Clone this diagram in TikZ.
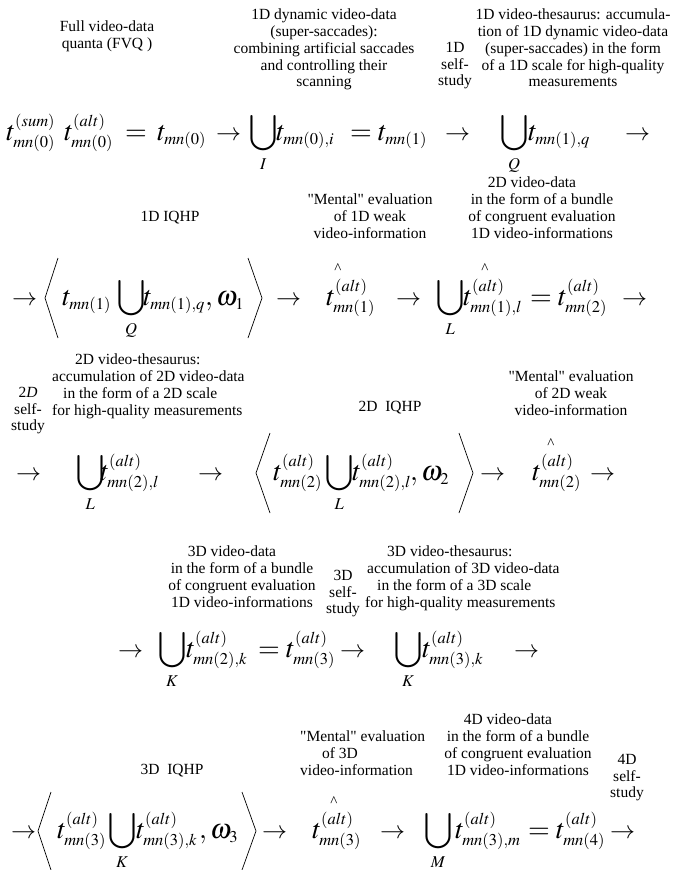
\documentclass[tikz,border=0pt]{standalone}
\usepackage{amsmath}
\usepackage{mathptmx}
\usepackage[no-math]{fontspec}
\setmainfont{Liberation Serif}
\newfontfamily\plainserif{Liberation Serif}
\DeclareMathSizes{28}{28}{16.5}{12}
\tikzset{
 capt/.style={font=\plainserif\fontsize{15.5}{16.7}\selectfont, align=center, inner sep=0pt, anchor=north},
 captl/.style={capt, align=left, anchor=north west},
 mth/.style={font=\fontsize{28}{32}\selectfont, inner sep=0pt, anchor=base west},
 arr/.style={font=\fontsize{25}{30}\selectfont, inner sep=0pt, anchor=base west},
 hatmark/.style={font=\plainserif\fontsize{15}{15}\selectfont, inner sep=0pt},
 ang/.style={line width=0.7pt}
}
\begin{document}
\begin{tikzpicture}[x=1pt,y=-1pt]
\useasboundingbox (0,0) rectangle (673,870);
% ---------- row 1 captions
\node[capt] (c1) at (107,21) {Full video-data\\quanta (FVQ )};
\node[capt] (c2) at (324,9) {1D dynamic video-data\\(super-saccades):\\combining artificial saccades\\and controlling their\\scanning};
\node[capt] (c3) at (455,42) {1D\\self-\\study};
\node[capt] (c4) at (573,9) {1D video-thesaurus: accumula-\\tion of 1D dynamic video-data\\(super-saccades) in the form\\of a 1D scale for high-quality\\measurements};
% ---------- row 1 formula
\node[mth] (r1a) at (6,140) {$t^{(sum)}_{mn(0)}$};
\node[mth] (r1b) at (64,140) {$t^{(alt)}_{mn(0)}$};
\node[mth] (r1c) at (125,140) {$=$};
\node[mth] (r1d) at (157,140) {$t_{mn(0)}$};
\node[arr] (r1e) at (216,140) {$\rightarrow$};
\node[mth] (r1f) at (249,140) {$\displaystyle\bigcup_I$};
\node[mth] (r1g) at (276,140) {$t_{mn(0),i}$};
\node[mth] (r1h) at (350,140) {$=t_{mn(1)}$};
\node[arr] (r1i) at (445,140) {$\rightarrow$};
\node[mth] (r1j) at (500,140) {$\displaystyle\bigcup_Q$};
\node[mth] (r1k) at (528,140) {$t_{mn(1),q}$};
\node[arr] (r1l) at (625,140) {$\rightarrow$};
% ---------- row 2 captions
\node[capt] (c5) at (170,211) {1D IQHP};
\node[capt] (c6) at (370,194) {"Mental" evaluation\\of 1D weak\\video-information};
\node[capt] (c7) at (542,177) {2D video-data\hspace*{20pt}\\in the form of a bundle\\of congruent evaluation\\1D video-informations};
% ---------- row 2 formula
\node[arr] (r2a) at (12,305) {$\rightarrow$};
\draw[ang] (58,258) -- (45,298) -- (58,338);
\node[mth] (r2b) at (62,305) {$t_{mn(1)}$};
\node[mth] (r2c) at (117,305) {$\displaystyle\bigcup_Q$};
\node[mth] (r2d) at (143,305) {$t_{mn(1),q}$};
\node[mth] (r2e) at (205,305) {${,}\,\omega_1$};
\draw[ang] (248,258) -- (262,298) -- (248,338);
\node[arr] (r2f) at (276,305) {$\rightarrow$};
\node[mth] (r2g) at (326,305) {$t^{(alt)}_{mn(1)}$};
\node[hatmark] (h1) at (338,269) {\textasciicircum};
\node[arr] (r2h) at (396,305) {$\rightarrow$};
\node[mth] (r2i) at (436,305) {$\displaystyle\bigcup_L$};
\node[mth] (r2j) at (463,305) {$t^{(alt)}_{mn(1),l}$};
\node[hatmark] (h2) at (485,269) {\textasciicircum};
\node[mth] (r2k) at (530,305) {$=t^{(alt)}_{mn(2)}$};
\node[arr] (r2l) at (622,305) {$\rightarrow$};
% ---------- row 3 captions
\node[capt] (c8) at (28,387) {2\textit{D}\\self-\\study};
\node[captl] (c9) at (52,354) {\hspace*{23pt}2D video-thesaurus:\\accumulation of 2D video-data\\\hspace*{11pt}in the form of a 2D scale\\for high-quality measurements};
\node[capt] (c10) at (390,401) {2D\ \ IQHP};
\node[capt] (c11) at (571,371) {"Mental" evaluation\\of 2D weak\\video-information};
% ---------- row 3 formula
\node[arr] (r3a) at (16,480) {$\rightarrow$};
\node[mth] (r3b) at (76,480) {$\displaystyle\bigcup_L$};
\node[mth] (r3c) at (100,480) {$t^{(alt)}_{mn(2),l}$};
\node[arr] (r3d) at (198,480) {$\rightarrow$};
\draw[ang] (270,433) -- (256,473) -- (270,513);
\node[mth] (r3e) at (273,480) {$t^{(alt)}_{mn(2)}$};
\node[mth] (r3f) at (325,480) {$\displaystyle\bigcup_L$};
\node[mth] (r3g) at (352,480) {$t^{(alt)}_{mn(2),l}$};
\node[mth] (r3h) at (410,480) {${,}\,\omega_2$};
\draw[ang] (459,433) -- (473,473) -- (459,513);
\node[arr] (r3i) at (480,480) {$\rightarrow$};
\node[mth] (r3j) at (532,480) {$t^{(alt)}_{mn(2)}$};
\node[hatmark] (h3) at (551,444) {\textasciicircum};
\node[arr] (r3k) at (590,480) {$\rightarrow$};
% ---------- row 4 captions
\node[capt] (c12) at (242,546) {3D video-data\hspace*{20pt}\\in the form of a bundle\\of congruent evaluation\\1D video-informations};
\node[capt] (c13) at (343,570) {3D\\self-\\study};
\node[captl] (c14) at (365,546) {\hspace*{22pt}3D video-thesaurus:\\\hspace*{2pt}accumulation of 3D video-data\\\hspace*{12pt}in the form of a 3D scale\\for high-quality measurements};
% ---------- row 4 formula
\node[arr] (r4a) at (118,657) {$\rightarrow$};
\node[mth] (r4b) at (158,657) {$\displaystyle\bigcup_K$};
\node[mth] (r4c) at (186,657) {$t^{(alt)}_{mn(2),k}$};
\node[mth] (r4d) at (258,657) {$=t^{(alt)}_{mn(3)}$};
\node[arr] (r4e) at (340,657) {$\rightarrow$};
\node[mth] (r4f) at (394,657) {$\displaystyle\bigcup_K$};
\node[mth] (r4g) at (422,657) {$t^{(alt)}_{mn(3),k}$};
\node[arr] (r4h) at (514,657) {$\rightarrow$};
% ---------- row 5 captions
\node[capt] (c15) at (172,764) {3D\ \ IQHP};
\node[captl] (c16) at (300,731) {"Mental" evaluation\\\hspace*{22pt}of 3D\\video-information};
\node[capt] (c17) at (518,714) {4D video-data\hspace*{20pt}\\in the form of a bundle\\of congruent evaluation\\1D video-informations};
\node[capt] (c18) at (627,754) {4D\\self-\\study};
% ---------- row 5 formula
\node[arr] (r5a) at (11,838) {$\rightarrow$};
\draw[ang] (51,792) -- (38,831) -- (51,870);
\node[mth] (r5b) at (57,838) {$t^{(alt)}_{mn(3)}$};
\node[mth] (r5c) at (108,838) {$\displaystyle\bigcup_K$};
\node[mth] (r5d) at (136,838) {$t^{(alt)}_{mn(3),k}$};
\node[mth] (r5e) at (199,838) {${,}\,\omega_3$};
\draw[ang] (242,792) -- (256,831) -- (242,870);
\node[arr] (r5f) at (262,838) {$\rightarrow$};
\node[mth] (r5g) at (312,838) {$t^{(alt)}_{mn(3)}$};
\node[hatmark] (h4) at (334,802) {\textasciicircum};
\node[arr] (r5h) at (380,838) {$\rightarrow$};
\node[mth] (r5i) at (424,838) {$\displaystyle\bigcup_M$};
\node[mth] (r5j) at (455,838) {$t^{(alt)}_{mn(3),m}$};
\node[mth] (r5k) at (528,838) {$=t^{(alt)}_{mn(4)}$};
\node[arr] (r5l) at (610,838) {$\rightarrow$};
\end{tikzpicture}
\end{document}
